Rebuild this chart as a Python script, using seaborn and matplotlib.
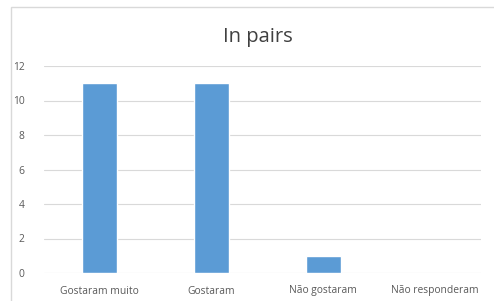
import matplotlib
matplotlib.use("Agg")
import matplotlib.pyplot as plt
import seaborn as sns
import pandas as pd
from matplotlib.patches import Rectangle

categories = ["Gostaram muito", "Gostaram", "Não gostaram", "Não responderam"]
values = [11, 11, 1, 0]
yticks = [0, 2, 4, 6, 8, 10, 12]

sns.set_theme(style="white")
plt.rcParams['font.family'] = ['Open Sans', 'DejaVu Sans']

df = pd.DataFrame({"cat": categories, "val": values})

fig = plt.figure(figsize=(4.94, 3.01), dpi=100)
ax = fig.add_axes([44/494, 1-273/301, (481-44)/494, (273-66)/301])
sns.barplot(data=df, x="cat", y="val", ax=ax, color="#5B9BD5", width=0.31,
            saturation=1, zorder=3)
ax.set_ylim(0, 12)
ax.set_yticks(yticks)
ax.set_yticklabels([str(t) for t in yticks])
ax.yaxis.grid(True, color="#D9D9D9", linewidth=0.8, zorder=0)
ax.set_axisbelow(True)
for s in ax.spines.values():
    s.set_visible(False)
ax.set_xlabel("")
ax.set_ylabel("")
ax.tick_params(axis="both", length=0, labelsize=7.4, colors="#595959")
ax.tick_params(axis="x", pad=9)
ax.tick_params(axis="y", pad=14)
ax.set_xlim(-0.496, 3.411)

fig.text(258/494, 1-37/301, "In pairs", ha="center", va="center",
         fontsize=14.5, color="#404040")
fig.patches.append(Rectangle((11/494, -0.1), 1.2, 1.1 - 7/301,
                             transform=fig.transFigure, fill=False,
                             edgecolor="#D9D9D9", linewidth=1))
fig.savefig("out.png", dpi=100)
